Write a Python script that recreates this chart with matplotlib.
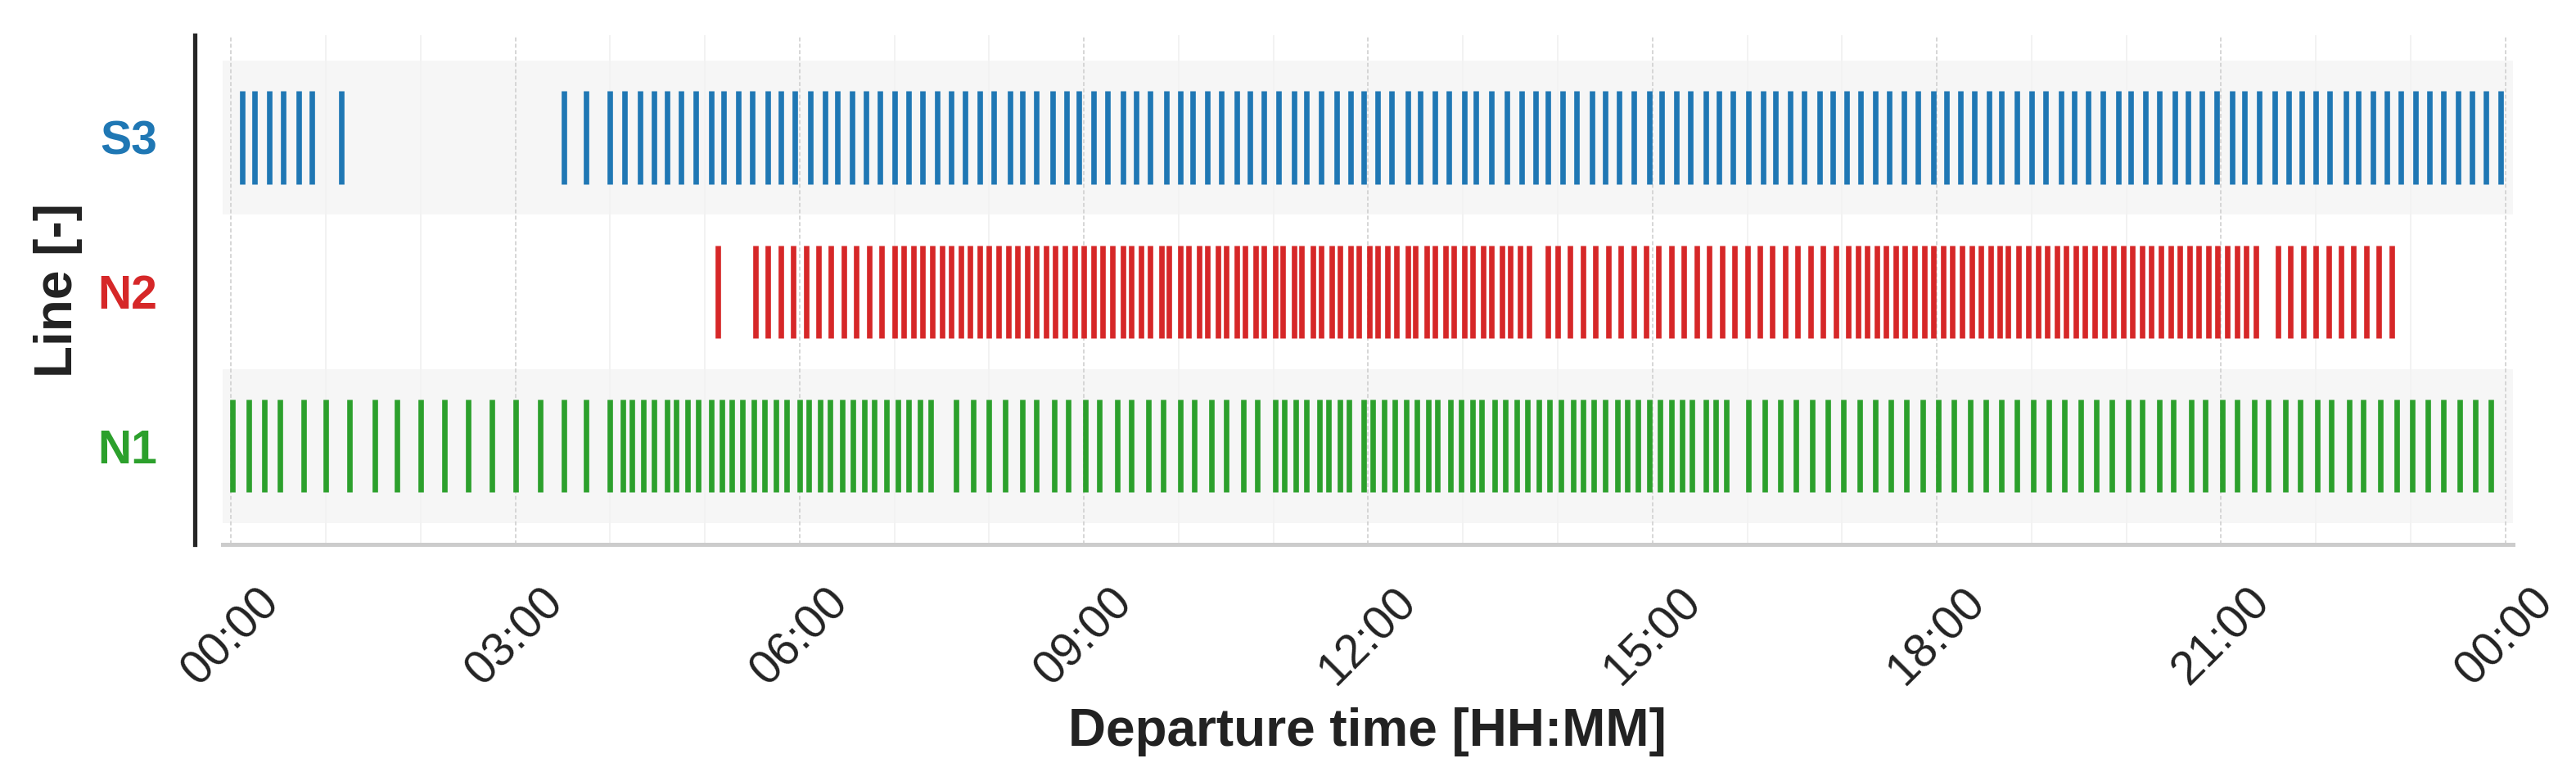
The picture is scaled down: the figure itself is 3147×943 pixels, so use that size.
import matplotlib
matplotlib.use("Agg")
import matplotlib.pyplot as plt
from matplotlib.ticker import MultipleLocator, FuncFormatter

plt.rcParams['font.family'] = ['Liberation Sans', 'DejaVu Sans']

# ---------------- data ----------------
line_names = ["N1", "N2", "S3"]
line_colors = ["#2ca02c", "#d62728", "#1f77b4"]

s3_departures = [
    "0:07", "0:15", "0:24", "0:33", "0:43", "0:51", "1:10",
    "3:31", "3:45", "4:00", "4:09", "4:19", "4:28", "4:36", "4:45", "4:54", "5:04", "5:12", "5:21", "5:30",
    "5:40", "5:48", "5:57", "6:07", "6:16", "6:24", "6:33", "6:42", "6:51", "7:00", "7:09", "7:18", "7:27",
    "7:36", "7:45", "7:54", "8:03", "8:13", "8:21", "8:30", "8:40", "8:49", "8:57", "9:06", "9:15", "9:25",
    "9:33", "9:42", "9:52", "10:01", "10:09", "10:18", "10:27", "10:37", "10:45", "10:54", "11:03", "11:13",
    "11:21", "11:30", "11:40", "11:49", "11:57", "12:06", "12:15", "12:25", "12:33", "12:42", "12:51", "13:01",
    "13:08", "13:18", "13:28", "13:37", "13:46", "13:54", "14:03", "14:12", "14:22", "14:30", "14:39", "14:48",
    "14:58", "15:06", "15:15", "15:24", "15:34", "15:42", "15:51", "16:01", "16:10", "16:18", "16:27", "16:36",
    "16:46", "16:54", "17:03", "17:12", "17:21", "17:30", "17:39", "17:48", "17:58", "18:06", "18:15", "18:24",
    "18:33", "18:41", "18:51", "19:00", "19:09", "19:19", "19:27", "19:36", "19:45", "19:55", "20:03", "20:12",
    "20:21", "20:31", "20:39", "20:48", "20:57", "21:07", "21:15", "21:24", "21:34", "21:43", "21:51", "22:00",
    "22:09", "22:19", "22:27", "22:36", "22:45", "22:54", "23:03", "23:12", "23:21", "23:30", "23:39", "23:48",
    "23:57",
]

n2_departures = [
    "5:08",
    "5:32", "5:40", "5:48", "5:56", "6:04", "6:12", "6:20", "6:28", "6:36", "6:44", "6:52", "7:00",
    "7:06", "7:12", "7:18", "7:24", "7:30", "7:36", "7:42", "7:48", "7:54", "8:00", "8:06", "8:12", "8:18",
    "8:24", "8:30", "8:36", "8:42", "8:48", "8:54", "9:00", "9:06", "9:12", "9:18",
    "9:25", "9:30", "9:36", "9:42", "9:49", "9:54", "10:01", "10:06", "10:13", "10:18", "10:25", "10:30",
    "10:37", "10:42", "10:49", "10:54", "11:01", "11:06", "11:13", "11:18", "11:25", "11:30", "11:37", "11:42",
    "11:49", "11:54", "12:01", "12:06", "12:12", "12:18", "12:25", "12:30", "12:37", "12:42", "12:49", "12:54",
    "13:01", "13:06", "13:13", "13:18", "13:25", "13:30", "13:36", "13:42",
    "13:54", "14:00", "14:08", "14:16", "14:24", "14:32", "14:40", "14:48", "14:56", "15:04", "15:12", "15:20",
    "15:28", "15:36", "15:44", "15:52", "16:00", "16:08", "16:16", "16:24", "16:32", "16:40", "16:48", "16:56",
    "17:04", "17:10", "17:16", "17:22", "17:28", "17:34", "17:40", "17:46", "17:52", "17:58", "18:04", "18:10",
    "18:16", "18:22", "18:28", "18:34", "18:40", "18:45", "18:52", "18:58", "19:04", "19:10", "19:16", "19:22",
    "19:28", "19:34", "19:40", "19:46", "19:52", "19:58", "20:04", "20:10", "20:16", "20:22", "20:28", "20:34",
    "20:40", "20:46", "20:52", "20:58", "21:04", "21:10", "21:16", "21:22",
    "21:36", "21:44", "21:52", "22:00", "22:08", "22:16", "22:24", "22:32", "22:40", "22:48",
]

n1_departures = [
    "0:01", "0:11", "0:21", "0:31", "0:46", "1:00", "1:15", "1:31", "1:45", "2:00", "2:15", "2:30", "2:45",
    "3:00", "3:16", "3:31", "3:45", "4:00",
    "4:08", "4:14", "4:21", "4:28", "4:36", "4:42", "4:49", "4:56", "5:04", "5:11", "5:17", "5:24", "5:31",
    "5:38", "5:45", "5:52", "6:00", "6:06", "6:13", "6:19", "6:27", "6:34", "6:41", "6:47", "6:55", "7:02",
    "7:09", "7:16", "7:23",
    "7:39", "7:50", "8:00", "8:10", "8:21", "8:30", "8:41", "8:50", "9:01", "9:10", "9:21", "9:30", "9:41",
    "9:50", "10:01", "10:10", "10:21", "10:30", "10:41", "10:50",
    "11:01", "11:07", "11:14", "11:21", "11:29", "11:35", "11:42", "11:48", "11:57", "12:03", "12:10", "12:17",
    "12:24", "12:31", "12:38", "12:44", "12:52", "12:59", "13:06", "13:12", "13:20", "13:27", "13:34", "13:41",
    "13:48", "13:55", "14:02", "14:10", "14:16", "14:23", "14:30", "14:38", "14:44", "14:51", "14:58", "15:05",
    "15:12", "15:19", "15:25", "15:34", "15:40", "15:47",
    "16:01", "16:11", "16:21", "16:31", "16:41", "16:51", "17:01", "17:11", "17:21", "17:31", "17:41", "17:51",
    "18:01", "18:11", "18:21", "18:31", "18:41", "18:51", "19:01", "19:11", "19:21", "19:31", "19:41", "19:51",
    "20:01", "20:10", "20:21", "20:30", "20:41", "20:50", "21:01", "21:10", "21:21", "21:30", "21:41", "21:50",
    "22:01", "22:10", "22:21", "22:30", "22:41", "22:51", "23:01", "23:11", "23:21", "23:31", "23:41", "23:51",
]


def to_hours(hhmm):
    h, m = hhmm.split(":")
    return int(h) + int(m) / 60.0


series = [[to_hours(t) for t in lst] for lst in (n1_departures, n2_departures, s3_departures)]

# ---------------- figure ----------------
fig = plt.figure(figsize=(31.47, 9.43), dpi=100)
ax = fig.add_axes([0.0864, 0.2948, 0.8891, 0.6596])

# spines first (moving a spine resets the ticks)
for s in ("top", "right"):
    ax.spines[s].set_visible(False)
ax.spines["left"].set_position(("outward", 24.5))
ax.spines["left"].set_color("#262626")
ax.spines["left"].set_linewidth(3.8)
ax.spines["bottom"].set_color("#cccccc")
ax.spines["bottom"].set_linewidth(3.6)

# alternating row bands
for i in range(len(line_names)):
    if i % 2 == 0:
        ax.axhspan(i - 0.5, i + 0.5, color="#f6f6f6", lw=0, zorder=0)

ax.eventplot(series, lineoffsets=list(range(len(line_names))), linelengths=0.6,
             linewidths=4.8, colors=line_colors, zorder=3)

ax.set_xlim(-0.09, 24.08)
ax.set_ylim(-0.637, 2.663)

ax.xaxis.set_major_locator(MultipleLocator(3))
ax.xaxis.set_minor_locator(MultipleLocator(1))
ax.xaxis.set_major_formatter(FuncFormatter(lambda x, _: f"{int(round(x)) % 24:02d}:00"))

ax.set_axisbelow(True)
ax.grid(which="major", axis="x", color="#d6d6d6", linestyle=(0, (2.5, 1.5)), linewidth=1.4)
ax.grid(which="minor", axis="x", color="#f2f2f2", linestyle="-", linewidth=1.4)
ax.grid(which="major", axis="y", visible=False)

ax.tick_params(axis="x", which="both", length=0, pad=31, labelsize=41,
               labelrotation=45, labelcolor="#222222")
ax.tick_params(axis="y", which="both", length=0, pad=33, labelsize=41)

ax.set_yticks(range(len(line_names)))
ax.set_yticklabels(line_names, fontsize=41, fontweight="bold")
for tick, c in zip(ax.yaxis.get_major_ticks(), line_colors):
    tick.label1.set_color(c)
    tick.label1.set_fontweight("bold")

ax.set_xlabel("Departure time [HH:MM]", fontsize=46, fontweight="bold", color="#222222")
ax.xaxis.set_label_coords(0.5, -0.32)
ax.set_ylabel("Line [-]", fontsize=46, fontweight="bold", color="#222222")
ax.yaxis.set_label_coords(-0.061, 0.5)

fig.savefig("out.png", dpi=100)
